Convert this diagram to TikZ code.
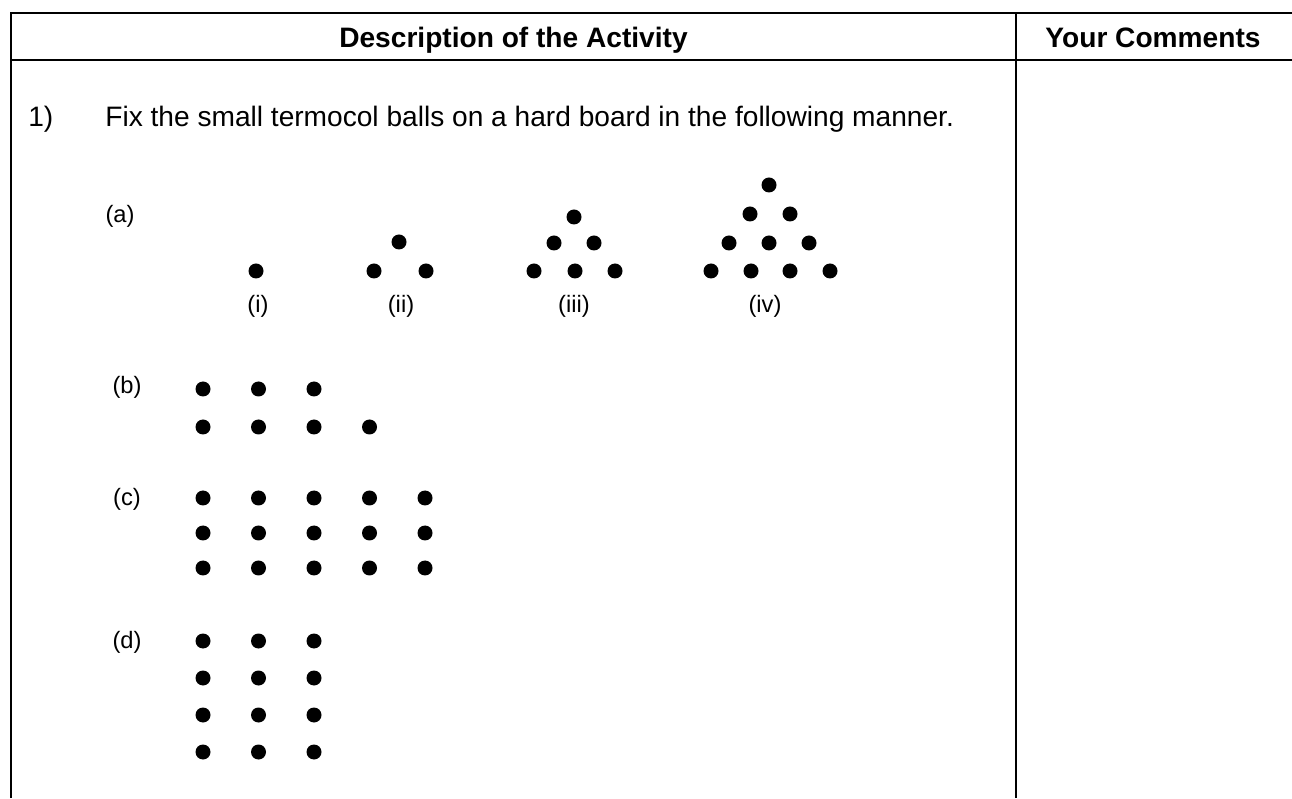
\documentclass[tikz,border=0pt]{standalone}
\usepackage{fontspec}
\setmainfont{Liberation Sans}
\usepackage{tikz}

\tikzset{
  ball/.style={fill=black},
  rule/.style={line width=1.4pt},
  body/.style={font=\fontsize{16}{19}\selectfont},
  tag/.style={font=\fontsize{13.5}{16}\selectfont}
}

\begin{document}
\begin{tikzpicture}
  \useasboundingbox (0,0) rectangle (25.84,15.96);
  % table rules
  \draw[rule] (0.22,0) -- (0.22,15.70) -- (25.84,15.70);
  \draw[rule] (0.22,14.76) -- (25.84,14.76);
  \draw[rule] (20.32,0) -- (20.32,15.70);
  \node[body,font=\fontsize{16}{19}\selectfont\bfseries,anchor=base] (desc) at (10.27,15.00) {Description of the Activity};
  \node[body,font=\fontsize{16}{19}\selectfont\bfseries,anchor=base] (comm) at (23.06,15.00) {Your Comments};
  \node[body,anchor=base west,inner sep=0] (num) at (0.56,13.42) {1)};
  \node[body,anchor=base west,inner sep=0] (task) at (2.10,13.42) {Fix the small termocol balls on a hard board in the following manner.};
  % (a) triangles
  \node[tag] (la) at (2.40,11.64) {(a)};
  \fill[ball] (5.12,10.54) circle (0.15);
  \foreach \p in {(7.98,11.12),(7.48,10.54),(8.52,10.54)}
    \fill[ball] \p circle (0.15);
  \foreach \p in {(11.48,11.62),(11.08,11.10),(11.88,11.10),(10.68,10.54),(11.50,10.54),(12.30,10.54)}
    \fill[ball] \p circle (0.15);
  \foreach \p in {(15.38,12.26),(15.00,11.68),(15.80,11.68),(14.58,11.10),(15.38,11.10),(16.18,11.10),
                  (14.22,10.54),(15.02,10.54),(15.80,10.54),(16.60,10.54)}
    \fill[ball] \p circle (0.15);
  \node[tag] (ri) at (5.16,9.84) {(i)};
  \node[tag] (rii) at (8.02,9.84) {(ii)};
  \node[tag] (riii) at (11.48,9.84) {(iii)};
  \node[tag] (riv) at (15.30,9.84) {(iv)};
  % (b)
  \node[tag] (lb) at (2.54,8.22) {(b)};
  \foreach \i in {0,1,2} \fill[ball] (4.06+1.11*\i,8.18) circle (0.15);
  \foreach \i in {0,...,3} \fill[ball] (4.06+1.11*\i,7.42) circle (0.15);
  % (c)
  \node[tag] (lc) at (2.54,5.98) {(c)};
  \foreach \y in {6.00,5.30,4.60}
    \foreach \i in {0,...,4} \fill[ball] (4.06+1.11*\i,\y) circle (0.15);
  % (d)
  \node[tag] (ld) at (2.54,3.12) {(d)};
  \foreach \y in {3.14,2.40,1.66,0.92}
    \foreach \i in {0,1,2} \fill[ball] (4.06+1.11*\i,\y) circle (0.15);
\end{tikzpicture}
\end{document}
